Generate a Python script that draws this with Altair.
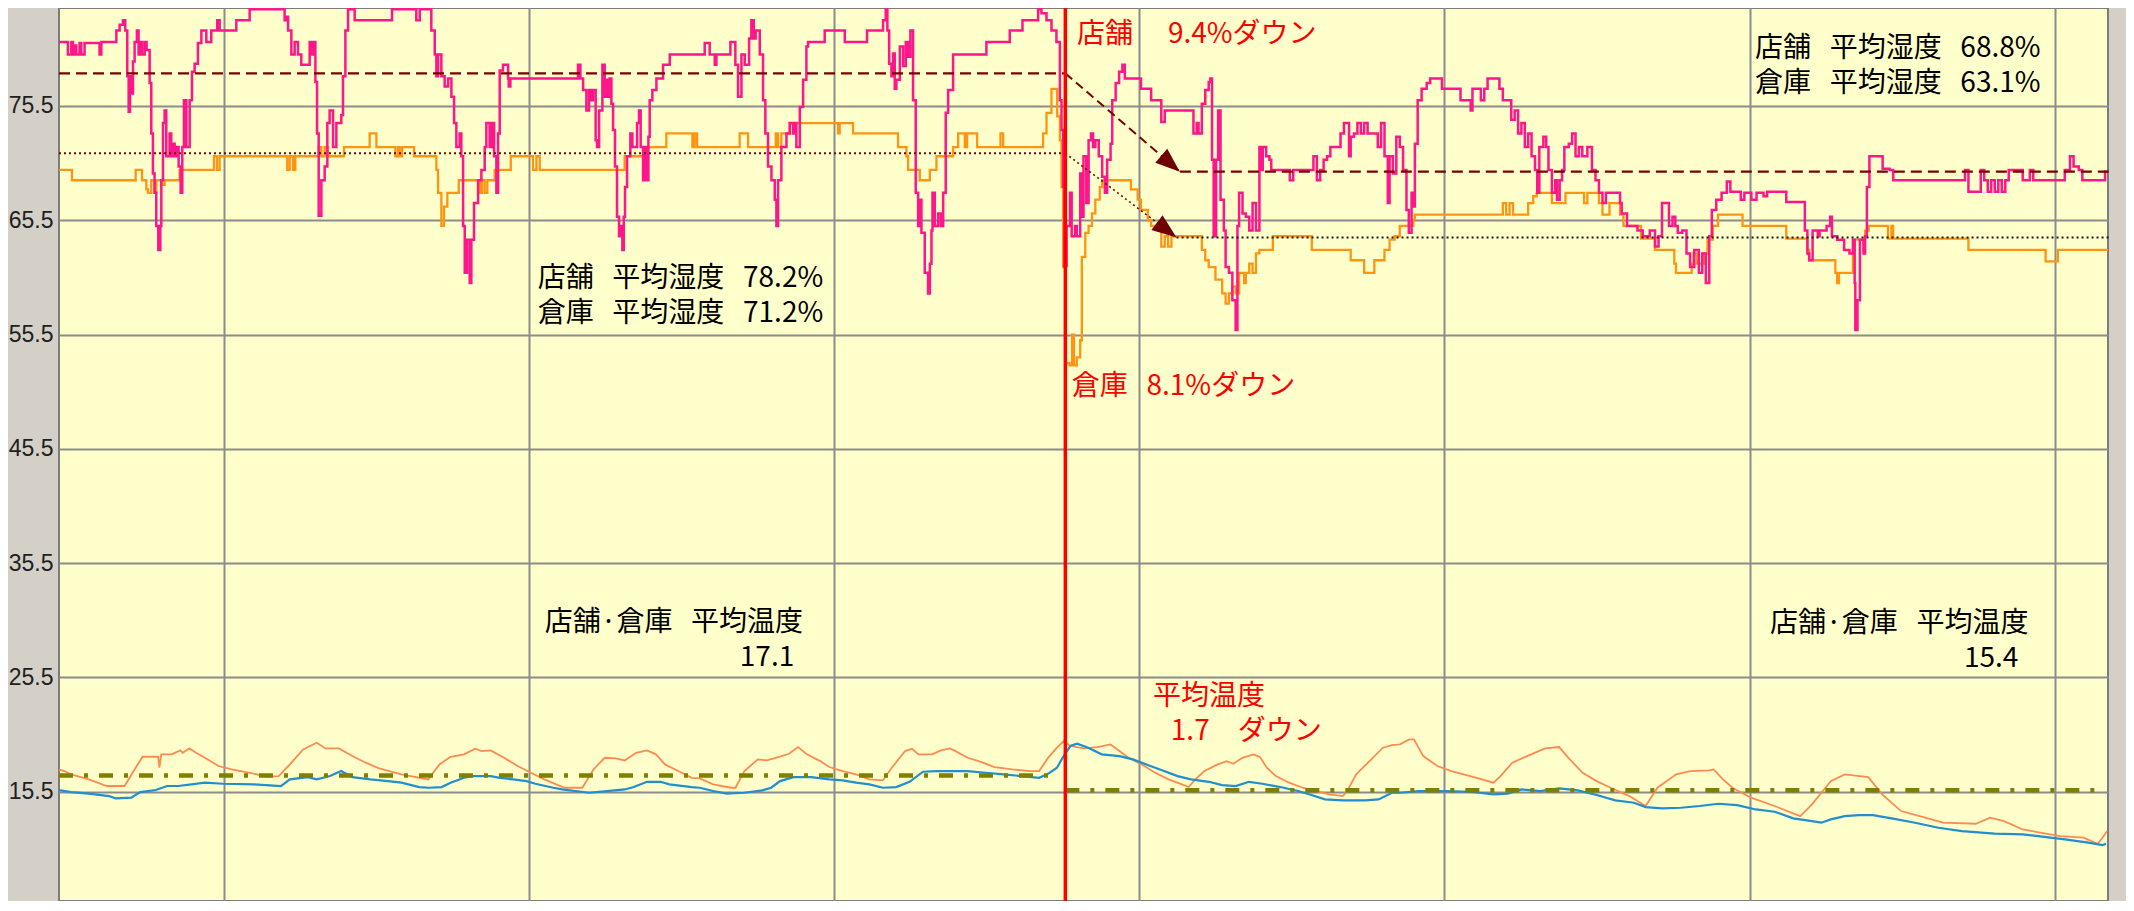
import altair as alt
import pandas as pd

# ---- data (t = hours from start, v = value) ----
shop_hum = [
 (0.0,81.1),(0.70,80.0),(0.97,81.1),(1.10,80.0),(1.23,80.8),(1.36,80.0),(1.62,81.0),(1.75,80.0),(2.01,81.0),
 (3.19,80.0),(3.33,81.1),(4.51,82.1),(4.77,82.6),(5.03,83.0),(5.21,82.1),(5.37,78.1),(5.48,75.0),(5.58,78.1),
 (5.69,76.6),(5.82,79.4),(5.95,81.1),(6.13,82.1),(6.26,80.0),(6.42,81.1),(6.53,80.0),(6.74,81.1),(6.89,80.4),
 (7.13,77.5),(7.26,73.1),(7.39,69.6),(7.52,67.9),(7.65,65.0),(7.81,62.9),(7.97,65.0),(8.05,69.0),(8.18,74.0),
 (8.31,75.1),(8.44,71.1),(8.70,73.1),(8.83,71.1),(8.97,72.2),(9.10,71.1),(9.23,71.9),(9.41,70.2),(9.57,67.9),
 (9.70,71.9),(9.83,76.0),(10.02,71.9),(10.28,76.0),(10.46,78.5),(10.67,79.2),(10.93,81.0),(11.20,82.1),
 (11.59,81.1),(11.98,82.1),(12.45,83.0),(12.64,82.1),(13.95,83.0),(15.0,83.95),(17.75,83.0),(17.88,83.3),
 (18.02,82.1),(18.28,80.0),(18.54,81.1),(18.80,80.0),(19.06,79.1),(19.72,81.1),(19.85,80.0),(19.98,81.1),
 (20.17,77.6),(20.30,73.1),(20.43,65.9),(20.64,69.0),(20.90,70.2),(21.11,74.0),(21.29,75.1),(21.56,71.9),
 (21.82,74.0),(22.21,74.7),(22.34,78.1),(22.53,82.1),(22.74,83.95),(23.26,83.0),(26.20,83.95),(28.11,83.0),
 (28.38,83.95),(29.29,82.1),(29.56,80.0),(29.69,78.1),(29.82,80.0),(30.08,78.1),(30.34,77.2),(30.61,77.9),
 (30.87,76.3),(31.08,74.0),(31.26,71.9),(31.52,73.1),(31.65,71.1),(31.79,65.0),(31.92,60.9),(32.10,63.8),
 (32.31,60.0),(32.44,63.8),(32.65,67.0),(32.97,69.0),(33.23,69.9),(33.49,71.9),(33.62,74.0),(33.88,71.9),
 (34.07,74.0),(34.23,71.1),(34.41,67.9),(34.54,73.1),(34.67,78.6),(34.93,79.1),(35.33,77.9),(35.38,77.2),
 (35.51,77.9),(40.83,79.1),(41.02,77.9),(41.23,76.9),(41.49,75.1),(41.70,76.9),(41.88,76.0),(42.01,76.9),
 (42.22,72.5),(42.33,71.9),(42.49,75.1),(42.75,79.1),(42.93,76.3),(43.06,77.8),(43.19,76.3),(43.32,77.9),
 (43.46,75.7),(43.59,73.4),(43.74,70.2),(43.90,65.8),(44.06,64.1),(44.19,65.0),(44.32,62.9),(44.43,65.8),
 (44.53,68.4),(44.69,71.1),(44.95,73.1),(45.11,71.9),(45.48,74.0),(45.63,75.1),(45.76,71.9),(45.95,69.0),
 (46.08,71.9),(46.26,69.0),(46.37,72.8),(46.47,76.0),(46.68,76.9),(47.00,77.9),(47.52,79.1),(48.05,80.0),
 (50.80,81.0),(51.19,80.0),(51.59,79.1),(51.72,80.0),(52.82,81.1),(53.21,79.1),(53.42,76.3),(53.69,80.0),
 (53.95,79.1),(54.29,81.4),(54.47,83.0),(54.66,81.4),(54.81,82.1),(55.13,80.0),(55.39,76.0),(55.57,73.1),
 (55.78,70.2),(56.05,69.0),(56.31,67.3),(56.44,65.0),(56.57,69.0),(56.83,71.9),(57.23,73.1),(57.49,74.0),
 (57.75,73.1),(57.91,74.0),(58.01,71.9),(58.28,75.4),(58.54,77.8),(58.80,80.7),(58.93,81.1),(60.24,82.1),
 (61.82,81.1),(63.57,82.1),(64.83,83.0),(65.04,83.95),(65.17,82.1),(65.31,79.2),(65.49,78.1),(65.62,80.1),
 (65.75,77.0),(65.88,77.8),(66.15,80.7),(66.41,79.0),(66.62,81.1),(66.80,79.8),(66.98,82.1),(67.19,76.0),
 (67.40,67.9),(67.59,65.0),(67.72,67.3),(67.85,64.4),(68.11,60.9),(68.37,59.1),(68.51,61.7),(68.64,64.6),
 (68.72,67.9),(68.90,65.0),(69.16,66.1),(69.37,65.0),(69.56,67.9),(69.76,74.9),(69.95,76.9),(70.34,80.0),
 (72.96,81.1),(74.80,82.1),(75.80,83.0),(77.03,83.95),(77.29,83.6),(77.69,83.0),(78.08,82.1),(78.47,81.1),
 (78.74,76.0),(78.87,73.4),(79.00,68.4),(79.10,61.5),(79.27,65.0),(79.54,67.9),(79.67,64.1),(79.94,65.0),
 (80.07,64.1),(80.34,69.6),(80.47,65.8),(80.60,71.1),(80.82,67.0),(81.00,72.5),(81.19,73.1),(81.35,71.9),
 (81.53,72.5),(81.80,71.1),(82.07,69.3),(82.28,67.9),(82.46,70.8),(82.73,72.2),(82.86,76.0),(83.13,77.5),
 (83.40,78.5),(83.66,79.1),(83.85,77.9),(85.12,77.0),(85.92,76.0),(86.72,74.1),(86.99,75.1),(89.25,73.1),
 (89.51,74.0),(89.65,73.1),(89.91,75.7),(90.18,76.9),(90.45,77.6),(90.58,77.9),(90.71,70.8),(90.84,64.1),
 (91.03,70.8),(91.19,75.1),(91.38,67.3),(91.64,64.6),(91.78,61.4),(92.04,60.9),(92.31,58.5),(92.57,55.9),
 (92.71,65.0),(92.84,67.9),(93.11,66.1),(93.37,65.8),(93.64,64.6),(93.90,67.0),(94.17,64.6),(94.44,71.9),
 (94.57,69.9),(94.70,71.9),(94.97,71.1),(95.23,70.8),(95.37,69.9),(96.83,69.0),(97.10,69.9),(98.69,71.1),
 (98.96,69.0),(99.22,69.9),(99.49,70.8),(99.76,71.1),(100.02,71.9),(100.82,73.1),(101.09,74.0),(101.49,71.1),
 (101.62,72.8),(101.88,73.1),(102.15,74.0),(102.42,73.1),(102.68,74.0),(102.95,73.1),(103.75,71.9),
 (104.01,74.0),(104.28,71.1),(104.54,67.0),(104.68,71.1),(104.94,69.6),(105.21,72.8),(105.48,71.9),
 (105.74,69.9),(106.01,66.4),(106.19,64.4),(106.41,67.9),(106.54,66.7),(106.67,72.2),(106.89,76.0),
 (107.20,77.0),(107.60,77.5),(107.87,77.9),(108.80,77.0),(110.26,76.0),(111.06,75.1),(111.20,77.0),
 (111.86,76.0),(112.13,77.0),(112.39,77.9),(113.32,77.0),(113.59,76.0),(114.25,74.3),(114.52,75.1),
 (114.79,73.1),(115.05,74.0),(115.32,71.9),(115.58,73.1),(115.85,71.1),(116.12,69.9),(116.30,67.9),
 (116.46,71.9),(116.78,72.8),(117.00,71.9),(117.18,69.9),(117.45,67.9),(117.71,69.0),(117.85,67.3),
 (118.06,69.0),(118.25,69.9),(118.43,71.9),(118.78,72.2),(119.04,73.1),(119.31,71.1),(119.58,71.9),
 (119.84,71.1),(120.24,71.9),(120.60,69.9),(120.88,69.0),(121.15,67.9),(121.43,67.0),(121.70,67.9),
 (122.81,67.0),(122.94,66.1),(123.36,65.0),(124.18,64.6),(124.60,64.1),(125.15,64.6),(125.56,63.2),
 (125.84,64.1),(126.11,67.0),(126.66,65.0),(126.94,65.8),(127.16,65.0),(127.35,64.4),(127.71,64.6),
 (128.04,62.6),(128.32,61.4),(128.65,62.9),(129.01,60.9),(129.28,62.6),(129.56,60.0),(129.83,64.1),
 (130.03,66.4),(130.38,67.3),(130.80,67.9),(131.21,68.9),(131.49,68.0),(132.31,67.3),(132.59,67.9),
 (133.14,67.3),(133.55,67.9),(134.10,67.6),(134.38,68.0),(135.89,67.1),(137.35,64.6),(137.55,62.6),
 (137.69,62.0),(137.96,64.6),(138.37,64.1),(138.51,64.6),(139.06,65.0),(139.34,65.8),(139.48,64.1),
 (139.89,63.8),(140.44,62.9),(140.86,62.6),(141.13,63.8),(141.27,60.0),(141.32,55.9),(141.49,58.5),
 (141.68,63.8),(141.96,62.6),(142.09,64.1),(142.23,68.4),(142.43,71.1),(143.47,70.0),(144.02,69.9),
 (144.30,69.0),(149.95,69.9),(150.22,68.0),(151.19,69.9),(151.46,69.0),(151.74,68.0),(152.01,69.0),
 (152.29,68.0),(152.57,69.0),(152.84,68.0),(153.12,69.0),(153.39,69.9),(154.49,69.0),(155.05,69.9),
 (155.32,69.0),(157.80,69.9),(158.21,71.1),(158.49,70.2),(158.90,69.9),(159.18,69.0),(160.97,69.75),
 (161.25,69.75),
]

store_hum = [
 (0.0,69.9),(1.02,69.0),(6.03,69.9),(6.53,69.0),(6.87,68.2),(7.0,67.9),(7.26,69.0),(7.52,67.9),(7.65,69.0),
 (8.05,68.6),(8.31,69.0),(9.49,69.9),(12.19,71.1),(12.43,69.9),(12.64,71.1),(17.96,69.9),(18.15,71.1),
 (18.41,69.9),(18.59,71.1),(20.43,71.9),(20.64,71.1),(20.90,71.9),(21.16,71.1),(22.42,71.9),(24.44,73.1),
 (24.97,71.9),(26.46,71.1),(26.67,71.9),(26.80,71.1),(26.99,71.9),(27.93,71.1),(29.69,69.9),(29.82,67.9),
 (30.08,65.0),(30.29,66.7),(30.55,67.9),(31.45,69.0),(33.10,67.9),(33.28,69.0),(33.49,67.9),(33.70,69.0),
 (34.28,69.9),(35.54,71.1),(37.29,69.9),(37.56,71.1),(37.82,69.9),(44.50,71.1),(46.26,71.9),(47.78,73.1),
 (49.83,71.9),(50.01,73.1),(50.20,71.9),(53.55,73.1),(54.21,71.9),(56.39,73.1),(56.57,71.9),(56.83,73.1),
 (57.49,74.0),(61.29,73.1),(61.42,74.0),(62.47,73.1),(66.01,71.9),(66.67,71.1),(66.80,69.9),(67.72,69.0),
 (68.51,69.9),(69.03,71.1),(70.34,71.9),(70.74,73.1),(71.26,71.9),(71.44,73.1),(72.23,71.9),(74.07,73.1),
 (74.28,71.9),(77.42,73.1),(77.69,74.9),(78.08,77.0),(78.53,74.6),(78.74,72.5),(78.87,68.4),(79.00,61.4),
 (79.17,53.0),(79.50,52.8),(79.70,55.5),(79.85,52.8),(80.07,53.5),(80.34,55.0),(80.47,62.3),(80.74,64.4),
 (81.00,65.0),(81.27,66.1),(81.53,67.3),(81.88,68.4),(82.07,69.0),(84.33,68.2),(84.86,67.3),(85.12,66.4),
 (85.66,65.5),(85.92,65.0),(86.45,64.6),(86.72,63.2),(86.99,64.1),(87.25,63.2),(87.52,64.1),(89.91,62.9),
 (90.18,62.0),(90.45,61.4),(90.98,60.3),(91.51,59.1),(91.78,58.2),(92.04,59.1),(92.31,59.7),(92.57,59.1),
 (92.84,60.9),(93.24,60.0),(93.37,60.9),(93.64,61.7),(93.90,60.9),(94.17,62.6),(94.44,62.9),(95.50,64.1),
 (98.56,62.9),(101.62,62.0),(102.68,60.9),(103.48,62.0),(104.28,62.9),(104.68,63.8),(105.08,64.1),
 (105.48,65.0),(106.54,65.5),(106.67,66.0),(113.59,67.0),(113.85,66.0),(114.12,67.0),(114.39,66.0),
 (115.58,67.0),(115.98,67.6),(116.25,67.9),(117.45,67.0),(118.52,67.9),(119.98,67.0),(120.24,67.9),
 (121.15,67.0),(121.43,66.0),(121.98,67.0),(122.81,66.0),(123.08,65.0),(124.46,63.9),(125.56,62.9),
 (127.08,61.7),(127.21,60.9),(128.45,61.7),(128.59,62.6),(128.87,61.7),(129.42,62.6),(129.69,63.8),
 (130.11,65.0),(130.52,66.0),(132.45,65.0),(135.89,63.9),(137.55,62.9),(137.69,62.0),(139.75,60.9),
 (139.89,60.0),(140.03,60.9),(141.13,62.9),(141.27,63.8),(142.09,64.6),(142.37,65.0),(143.89,63.9),
 (144.16,65.0),(144.30,63.9),(150.22,62.9),(156.29,61.9),(157.25,62.9),(161.25,62.9),
]

shop_temp = [
 (0.0,17.45),(0.42,17.31),(0.95,17.02),(2.35,16.58),(3.76,16.00),(5.16,16.00),(5.87,17.31),(6.57,18.56),
 (7.80,18.56),(7.90,17.60),(8.04,18.77),(8.85,18.77),(9.55,19.12),(9.73,18.91),(10.26,19.29),(10.78,18.91),
 (11.84,18.24),(12.54,17.75),(13.59,17.45),(15.00,17.16),(16.40,16.81),(17.28,16.87),(18.16,17.89),
 (19.21,19.20),(20.27,19.79),(20.97,19.29),(22.02,19.29),(23.08,18.62),(24.13,18.04),(25.19,17.54),
 (26.94,17.02),(29.05,16.58),(29.93,17.89),(30.81,18.56),(31.86,18.77),(32.74,19.26),(33.27,19.06),
 (33.97,19.12),(35.02,18.47),(36.08,17.75),(37.13,17.16),(38.18,16.58),(39.77,15.85),(41.17,15.85),
 (42.05,17.45),(42.93,18.47),(43.80,18.42),(44.51,18.24),(45.39,18.91),(46.26,19.12),(46.97,18.77),
 (47.67,17.89),(48.72,17.31),(49.78,16.72),(50.41,16.67),(51.46,16.14),(52.87,15.85),(53.22,15.85),
 (53.92,17.31),(54.98,18.33),(55.68,18.24),(56.38,18.47),(57.44,18.82),(58.14,19.41),(58.84,18.77),
 (59.89,18.18),(60.60,17.66),(61.65,17.31),(62.71,17.02),(63.76,16.58),(64.81,16.49),(65.52,17.60),
 (66.57,19.06),(67.10,19.26),(67.62,18.77),(68.68,18.77),(69.38,19.12),(70.08,19.29),(70.43,19.12),
 (71.49,18.47),(72.54,18.12),(73.60,17.66),(75.00,17.45),(76.41,17.31),(77.11,17.31),(77.81,18.47),
 (78.51,19.35),(79.04,19.93),(79.57,19.50),(80.62,19.29),(81.68,19.41),(82.73,19.64),(83.43,19.06),
 (84.13,18.47),(85.19,17.89),(86.24,17.16),(87.30,16.58),(88.35,16.14),(88.88,15.91),(89.40,16.58),
 (90.11,17.31),(91.16,17.89),(91.86,18.18),(92.39,17.95),(93.09,18.47),(93.97,18.77),(94.50,18.53),
 (95.02,17.60),(95.73,16.87),(96.78,16.29),(97.84,15.85),(98.89,15.56),(99.94,15.27),(101.00,15.12),
 (101.35,15.56),(102.05,17.02),(103.10,18.18),(104.16,19.35),(104.86,19.58),(105.49,19.64),(106.23,20.08),
 (106.60,20.08),(107.33,18.62),(108.44,17.75),(109.54,17.31),(111.02,16.87),(112.86,16.29),(113.41,16.87),
 (114.33,18.04),(115.81,18.77),(116.91,19.29),(118.02,19.41),(118.75,18.47),(119.86,17.16),(120.97,16.43),
 (122.07,15.85),(123.54,15.12),(124.83,14.25),(125.75,15.85),(127.23,17.02),(128.33,17.31),(129.81,17.37),
 (130.18,17.45),(130.91,16.58),(131.65,15.85),(133.12,14.98),(134.97,14.25),(136.99,13.37),(137.91,14.39),
 (139.39,16.43),(140.49,17.02),(142.34,16.78),(143.44,15.27),(144.92,13.81),(146.39,13.37),(148.23,12.79),
 (150.81,12.70),(151.92,13.23),(153.02,12.93),(154.50,12.20),(155.97,11.91),(157.44,11.62),(159.28,11.48),
 (160.39,10.95),(160.76,11.48),(161.13,12.06),
]

store_temp = [
 (0.0,15.65),(0.95,15.47),(2.35,15.33),(3.93,15.12),(4.46,14.92),(5.69,14.98),(6.39,15.47),(7.62,15.65),
 (8.50,16.0),(9.38,16.0),(10.43,16.14),(11.48,16.29),(12.89,16.20),(15.35,16.14),(17.46,16.0),(18.16,16.58),
 (19.57,16.78),(20.27,16.58),(21.32,16.87),(22.20,17.31),(23.08,16.78),(24.48,16.58),(25.89,16.43),
 (26.94,16.29),(28.35,15.91),(29.05,15.85),(30.10,15.91),(30.81,16.29),(31.86,16.72),(32.56,16.87),
 (33.97,16.87),(34.67,16.72),(35.73,16.58),(36.78,16.43),(37.48,16.20),(38.89,15.85),(39.59,15.70),
 (41.70,15.41),(43.10,15.56),(44.51,15.70),(45.21,15.91),(46.26,16.37),(47.32,16.37),(48.02,16.14),
 (49.78,15.91),(50.41,15.85),(51.46,15.56),(52.52,15.33),(53.92,15.41),(55.33,15.62),(56.03,15.85),
 (56.73,16.43),(57.79,16.78),(59.19,16.78),(60.60,16.58),(61.65,16.49),(62.71,16.29),(63.76,16.14),
 (64.81,15.85),(65.87,15.91),(66.92,16.37),(67.97,17.25),(69.03,17.31),(71.49,17.31),(72.89,17.16),
 (74.30,17.02),(75.70,16.87),(77.11,16.72),(77.81,17.07),(78.51,17.60),(79.04,18.62),(79.57,19.50),
 (80.09,19.70),(80.97,19.35),(82.03,18.77),(83.43,18.62),(84.49,18.33),(85.54,17.89),(86.94,17.31),
 (88.00,16.87),(89.05,16.58),(90.46,16.37),(91.51,16.08),(92.57,16.00),(93.62,16.37),(94.67,16.20),
 (96.08,15.91),(97.48,15.56),(98.54,15.21),(99.59,14.83),(101.00,14.74),(102.75,14.74),(103.81,14.83),
 (104.86,15.41),(105.49,15.41),(106.96,15.56),(109.17,15.56),(111.02,15.50),(112.86,15.27),(113.96,15.33),
 (115.07,15.70),(116.54,15.56),(118.02,15.79),(119.49,15.62),(120.97,15.21),(122.44,14.74),(123.91,14.54),
 (124.83,14.16),(126.12,14.04),(127.60,14.10),(129.07,14.25),(130.55,14.45),(132.02,14.33),(133.49,13.95),
 (134.97,13.75),(136.44,13.17),(137.91,12.93),(138.65,12.79),(139.39,13.08),(140.49,13.37),(141.60,13.46),
 (142.70,13.46),(144.18,13.17),(146.02,12.79),(147.86,12.35),(149.70,12.06),(152.28,11.83),(154.50,11.77),
 (156.34,11.53),(157.81,11.33),(159.65,11.04),(160.76,10.83),(161.05,10.95),
]

# period averages: (t_start, t_end, value)
hum_shop_avg = [(0.0, 79.17, 78.35), (88.18, 161.25, 69.75)]
hum_store_avg_before = [(0.0, 79.17, 71.36)]
hum_store_avg_after = [(87.92, 161.25, 64.0)]
temp_avg = [(0.0, 78.6, 16.93), (79.17, 160.3, 15.62)]
change_t = [79.17]
arrow_shop = [(79.17, 78.35), (88.18, 69.75)]
arrow_store = [(79.17, 71.36), (87.92, 64.0)]
y_ticks = [15.5, 25.5, 35.5, 45.5, 55.5, 65.5, 75.5]
x_grid = [13, 37, 61, 85, 109, 133, 157]

# annotations: text, t, v, colour
SP = "\u2002\u2006"
notes = [
 ("店舗" + SP + "平均湿度" + SP + "78.2%", 37.66, 60.4, "#000000"),
 ("倉庫" + SP + "平均湿度" + SP + "71.2%", 37.66, 57.34, "#000000"),
 ("店舗" + SP + "平均湿度" + SP + "68.8%", 133.43, 80.45, "#000000"),
 ("倉庫" + SP + "平均湿度" + SP + "63.1%", 133.43, 77.39, "#000000"),
 ("店舗\u3000\u20059.4%ダウン", 80.08, 81.71, "#ff0000"),
 ("倉庫" + SP + "8.1%ダウン", 79.68, 50.91, "#ff0000"),
 ("店舗·倉庫" + SP + "平均温度", 38.21, 30.25, "#000000"),
 ("17.1", 53.56, 27.19, "#000000"),
 ("店舗·倉庫" + SP + "平均温度", 134.61, 30.16, "#000000"),
 ("15.4", 149.87, 27.1, "#000000"),
 ("平均温度", 86.06, 23.82, "#ff0000"),
 ("1.7\u3000ダウン", 87.47, 20.76, "#ff0000"),
]

# ---- build ----
def df(pairs):
    return pd.DataFrame(pairs, columns=["t", "v"])

xs = alt.Scale(domain=[0, 161.2], nice=False, zero=False)
ys = alt.Scale(domain=[5.94, 84.07], nice=False, zero=False)
GRID = "#8c8c8c"

X = alt.X("t:Q", scale=xs, axis=alt.Axis(values=x_grid, labels=False, ticks=False, domain=False,
                                            grid=True, gridColor=GRID, gridWidth=2, title=None))
Y = alt.Y("v:Q", scale=ys, axis=alt.Axis(values=y_ticks, format=".1f", ticks=False, domain=False,
                                            grid=True, gridColor=GRID, gridWidth=2, title=None,
                                            labelFont="Liberation Sans, Arial, sans-serif",
                                            labelFontSize=23, labelColor="#202020", labelPadding=6))

l_store_h = alt.Chart(df(store_hum)).mark_line(color="#ff9410", strokeWidth=2.3, interpolate="step-after",
                                               clip=True).encode(x=X, y=Y)
l_shop_h = alt.Chart(df(shop_hum)).mark_line(color="#ff168a", strokeWidth=2.5, interpolate="step-after",
                                             clip=True).encode(x=X, y=Y)
l_shop_t = alt.Chart(df(shop_temp)).mark_line(color="#ff8a50", strokeWidth=1.8, clip=True).encode(x=X, y=Y)
l_store_t = alt.Chart(df(store_temp)).mark_line(color="#1f8fd0", strokeWidth=2.2, clip=True).encode(x=X, y=Y)

def rules(rows):
    return pd.DataFrame(rows, columns=["t", "t2", "v"])

r_shop = alt.Chart(rules(hum_shop_avg)).mark_rule(color="#7a0000", strokeWidth=2.2, strokeDash=[11, 6]).encode(
    x=X, x2="t2:Q", y=Y)
r_store1 = alt.Chart(rules(hum_store_avg_before)).mark_rule(color="#6a0a0a", strokeWidth=2, strokeDash=[2, 3]).encode(
    x=X, x2="t2:Q", y=Y)
r_store2 = alt.Chart(rules(hum_store_avg_after)).mark_rule(color="#1a1a1a", strokeWidth=2, strokeDash=[2, 3]).encode(
    x=X, x2="t2:Q", y=Y)
r_temp = alt.Chart(rules(temp_avg)).mark_rule(color="#808000", strokeWidth=4.5, strokeDash=[14, 11, 4, 11]).encode(
    x=X, x2="t2:Q", y=Y)

a_shop = alt.Chart(df(arrow_shop)).mark_line(color="#7a0000", strokeWidth=2, strokeDash=[9, 5]).encode(x=X, y=Y)
a_store = alt.Chart(df(arrow_store)).mark_line(color="#6a0a0a", strokeWidth=1.6, strokeDash=[2, 3]).encode(x=X, y=Y)
ARROW = "M0,0L-2,-0.75L-2,0.75Z"
h_shop = alt.Chart(df(arrow_shop[1:])).mark_point(shape=ARROW, filled=True, size=600, opacity=1,
                                                  color="#700000", angle=40.6).encode(x=X, y=Y)
h_store = alt.Chart(df(arrow_store[1:])).mark_point(shape=ARROW, filled=True, size=600, opacity=1,
                                                    color="#700000", angle=37.1).encode(x=X, y=Y)

red = alt.Chart(pd.DataFrame({"t": change_t})).mark_rule(color="#ff0000", strokeWidth=3.5).encode(x=X)

ndf = pd.DataFrame(notes, columns=["txt", "t", "v", "col"])
texts = alt.Chart(ndf).mark_text(align="left", baseline="middle", font="Noto Sans CJK JP", fontSize=28).encode(
    x=X, y=Y, text="txt:N", color=alt.Color("col:N", scale=None))

chart = alt.layer(
    l_store_h, l_shop_h, l_shop_t, l_store_t,
    r_shop, r_store1, r_store2, r_temp,
    a_shop, a_store, h_shop, h_store,
    red, texts,
).properties(
    width=2049, height=893,
    autosize=alt.AutoSizeParams(type="none"),
    padding={"left": 51, "top": 0, "right": 18, "bottom": 0},
    background="#d4d0c8",
).configure_view(
    fill="#ffffcc", stroke="#7c7c7c", strokeWidth=2,
)

chart.save("out.html", embed_options={"renderer": "svg", "actions": False})
